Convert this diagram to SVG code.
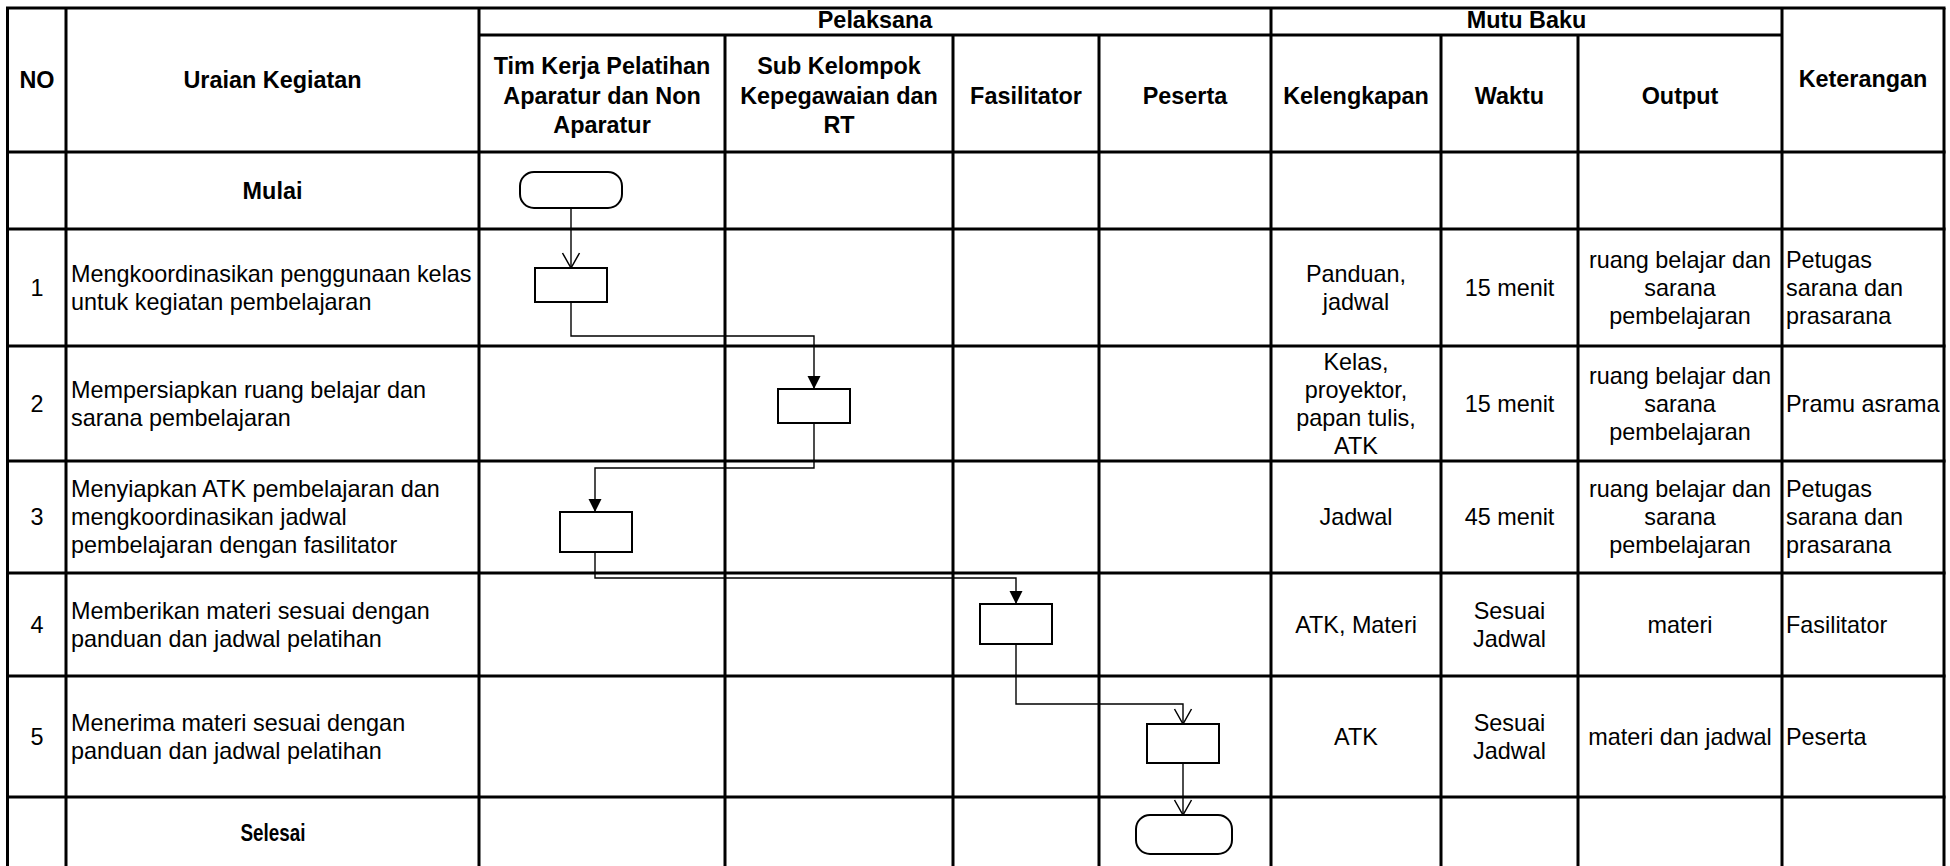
<svg xmlns="http://www.w3.org/2000/svg" width="1950" height="866" viewBox="0 0 1950 866">
<style>
text{font-family:"Liberation Sans",Arial,sans-serif;font-size:23.4px;fill:#000}
.b{font-weight:bold}
.c{text-anchor:middle}
.grid line{stroke:#000;stroke-width:3}
.shape{fill:#fff;stroke:#000;stroke-width:2}
.conn path{fill:none;stroke:#000;stroke-width:1.4}
</style>
<defs>
<marker id="fill" markerUnits="userSpaceOnUse" markerWidth="14" markerHeight="14" refX="13" refY="6.5" orient="auto" overflow="visible">
<path d="M0,0 L13,6.5 L0,13 Z" fill="#000"/>
</marker>
<marker id="open" markerUnits="userSpaceOnUse" markerWidth="16" markerHeight="18" refX="15" refY="8.5" orient="auto" overflow="visible">
<path d="M0,0 L15,8.5 L0,17" fill="none" stroke="#000" stroke-width="1.5"/>
</marker>
</defs>
<rect x="0" y="0" width="1950" height="866" fill="#fff"/>
<g id="table" class="grid">
<line x1="6" y1="8" x2="1945.5" y2="8"/>
<line x1="479" y1="35" x2="1782" y2="35"/>
<line x1="6" y1="152" x2="1945.5" y2="152"/>
<line x1="6" y1="229" x2="1945.5" y2="229"/>
<line x1="6" y1="346" x2="1945.5" y2="346"/>
<line x1="6" y1="461" x2="1945.5" y2="461"/>
<line x1="6" y1="573" x2="1945.5" y2="573"/>
<line x1="6" y1="676" x2="1945.5" y2="676"/>
<line x1="6" y1="797" x2="1945.5" y2="797"/>
<line x1="7.5" y1="8" x2="7.5" y2="866"/>
<line x1="66" y1="8" x2="66" y2="866"/>
<line x1="479" y1="8" x2="479" y2="866"/>
<line x1="1271" y1="8" x2="1271" y2="866"/>
<line x1="1782" y1="8" x2="1782" y2="866"/>
<line x1="1944" y1="8" x2="1944" y2="866"/>
<line x1="725" y1="35" x2="725" y2="866"/>
<line x1="953" y1="35" x2="953" y2="866"/>
<line x1="1099" y1="35" x2="1099" y2="866"/>
<line x1="1441" y1="35" x2="1441" y2="866"/>
<line x1="1578" y1="35" x2="1578" y2="866"/>
</g>
<g id="header">
<text class="b c" x="37" y="88">NO</text>
<text class="b c" x="272.5" y="88">Uraian Kegiatan</text>
<text class="b c" x="875" y="28">Pelaksana</text>
<text class="b c" x="1526.5" y="28">Mutu Baku</text>
<text class="b c" x="1863" y="87">Keterangan</text>
<text class="b c" x="602" y="74">Tim Kerja Pelatihan</text>
<text class="b c" x="602" y="103.5">Aparatur dan Non</text>
<text class="b c" x="602" y="133">Aparatur</text>
<text class="b c" x="839" y="74">Sub Kelompok</text>
<text class="b c" x="839" y="103.5">Kepegawaian dan</text>
<text class="b c" x="839" y="133">RT</text>
<text class="b c" x="1026" y="103.5">Fasilitator</text>
<text class="b c" x="1185" y="103.5">Peserta</text>
<text class="b c" x="1356" y="103.5">Kelengkapan</text>
<text class="b c" x="1509.5" y="103.5">Waktu</text>
<text class="b c" x="1680" y="103.5">Output</text>
</g>
<g id="rows">
<text class="b c" x="272.5" y="199">Mulai</text>
<text class="c" x="37" y="296">1</text>
<text x="71" y="282">Mengkoordinasikan penggunaan kelas</text>
<text x="71" y="310">untuk kegiatan pembelajaran</text>
<text class="c" x="1356" y="282">Panduan,</text>
<text class="c" x="1356" y="310">jadwal</text>
<text class="c" x="1509.5" y="296">15 menit</text>
<text class="c" x="1680" y="268">ruang belajar dan</text>
<text class="c" x="1680" y="296">sarana</text>
<text class="c" x="1680" y="324">pembelajaran</text>
<text x="1786" y="268">Petugas</text>
<text x="1786" y="296">sarana dan</text>
<text x="1786" y="324">prasarana</text>

<text class="c" x="37" y="412">2</text>
<text x="71" y="398">Mempersiapkan ruang belajar dan</text>
<text x="71" y="426">sarana pembelajaran</text>
<text class="c" x="1356" y="370">Kelas,</text>
<text class="c" x="1356" y="398">proyektor,</text>
<text class="c" x="1356" y="426">papan tulis,</text>
<text class="c" x="1356" y="454">ATK</text>
<text class="c" x="1509.5" y="412">15 menit</text>
<text class="c" x="1680" y="384">ruang belajar dan</text>
<text class="c" x="1680" y="412">sarana</text>
<text class="c" x="1680" y="440">pembelajaran</text>
<text x="1786" y="412">Pramu asrama</text>

<text class="c" x="37" y="525">3</text>
<text x="71" y="497">Menyiapkan ATK pembelajaran dan</text>
<text x="71" y="525">mengkoordinasikan jadwal</text>
<text x="71" y="553">pembelajaran dengan fasilitator</text>
<text class="c" x="1356" y="525">Jadwal</text>
<text class="c" x="1509.5" y="525">45 menit</text>
<text class="c" x="1680" y="497">ruang belajar dan</text>
<text class="c" x="1680" y="525">sarana</text>
<text class="c" x="1680" y="553">pembelajaran</text>
<text x="1786" y="497">Petugas</text>
<text x="1786" y="525">sarana dan</text>
<text x="1786" y="553">prasarana</text>

<text class="c" x="37" y="633">4</text>
<text x="71" y="619">Memberikan materi sesuai dengan</text>
<text x="71" y="647">panduan dan jadwal pelatihan</text>
<text class="c" x="1356" y="633">ATK, Materi</text>
<text class="c" x="1509.5" y="619">Sesuai</text>
<text class="c" x="1509.5" y="647">Jadwal</text>
<text class="c" x="1680" y="633">materi</text>
<text x="1786" y="633">Fasilitator</text>

<text class="c" x="37" y="745">5</text>
<text x="71" y="731">Menerima materi sesuai dengan</text>
<text x="71" y="759">panduan dan jadwal pelatihan</text>
<text class="c" x="1356" y="745">ATK</text>
<text class="c" x="1509.5" y="731">Sesuai</text>
<text class="c" x="1509.5" y="759">Jadwal</text>
<text class="c" x="1680" y="745">materi dan jadwal</text>
<text x="1786" y="745">Peserta</text>

<text class="b c" x="273" y="841" textLength="65" lengthAdjust="spacingAndGlyphs">Selesai</text>
</g>
<g id="connectors" class="conn">
<path d="M571,208 V268" marker-end="url(#open)"/>
<path d="M571,302 V336 H814 V389" marker-end="url(#fill)"/>
<path d="M814,423 V468 H595 V512" marker-end="url(#fill)"/>
<path d="M595,552 V578 H1016 V604" marker-end="url(#fill)"/>
<path d="M1016,644 V704 H1183 V724" marker-end="url(#open)"/>
<path d="M1183,763 V815" marker-end="url(#open)"/>
</g>
<g id="start"><rect class="shape" x="520" y="172" width="102" height="36" rx="14"/></g>
<g id="step1"><rect class="shape" x="535" y="268" width="72" height="34"/></g>
<g id="step2"><rect class="shape" x="778" y="389" width="72" height="34"/></g>
<g id="step3"><rect class="shape" x="560" y="512" width="72" height="40"/></g>
<g id="step4"><rect class="shape" x="980" y="604" width="72" height="40"/></g>
<g id="step5"><rect class="shape" x="1147" y="724" width="72" height="39"/></g>
<g id="end"><rect class="shape" x="1136" y="815" width="96" height="39" rx="14"/></g>
</svg>
